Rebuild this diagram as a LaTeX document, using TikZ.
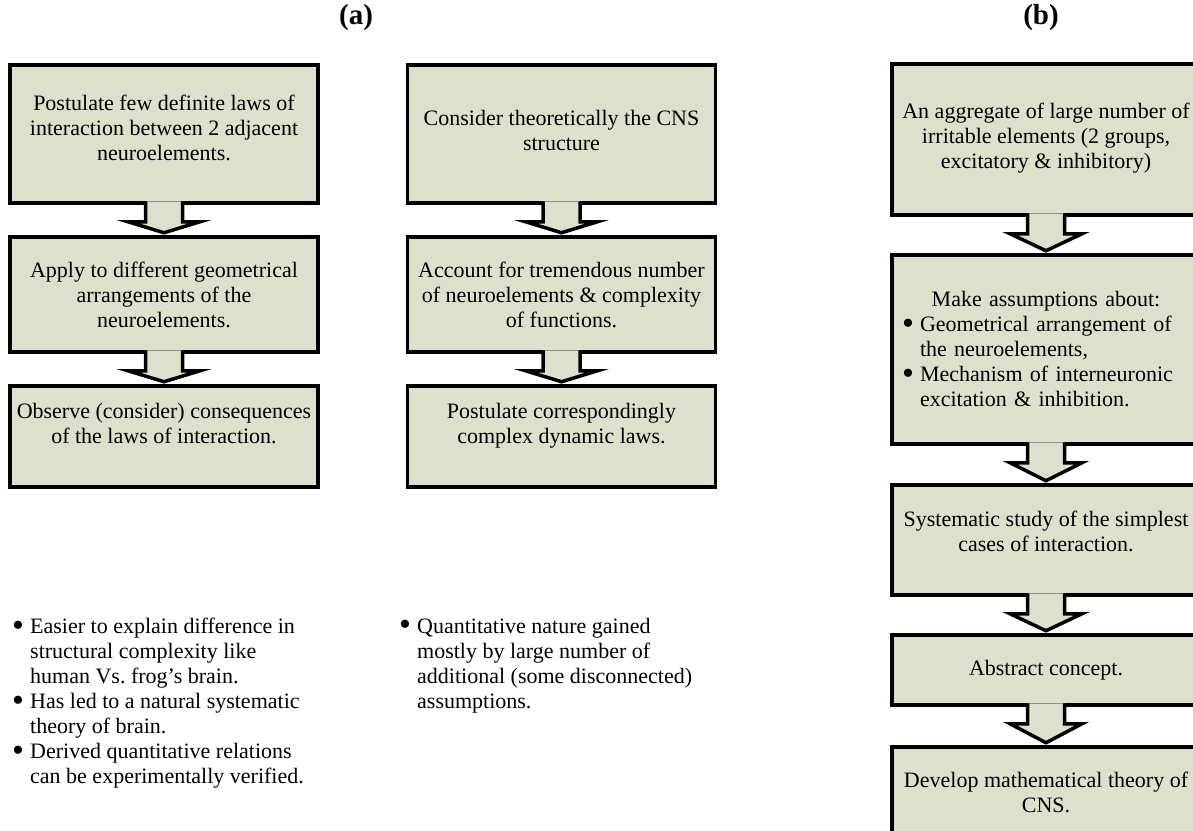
\documentclass[tikz,border=0pt]{standalone}
\usepackage{fontspec}
\setmainfont{Liberation Serif}
\usetikzlibrary{calc}
\definecolor{boxfill}{RGB}{221,224,204}
\newcommand\bodyfont{\fontsize{22}{25}\selectfont}
\newcommand\titlefont{\bfseries\fontsize{29}{32}\selectfont}
\newcommand\bigdot{{\fontsize{34}{0}\selectfont\raisebox{-2.5pt}{\textbullet}}}
\newcommand\bul{\makebox[18pt][l]{\bigdot}}
\newcommand\ind{\hspace*{18pt}}
% block arrow from the bottom of box #1 down to the top of box #2
\newcommand\flowarrow[2]{%
  \fill[arrowfill] ($(#1.south)+(-18.5,-3.5)$) -- ($(#1.south)+(-18.5,17)$)
    -- ($(#1.south)+(-36,17)$) -- ($(#2.north)+(0,-2.5)$)
    -- ($(#1.south)+(36,17)$) -- ($(#1.south)+(18.5,17)$)
    -- ($(#1.south)+(18.5,-3.5)$) -- cycle;
  \draw[arrowedge] ($(#1.south)+(-18.5,-3.5)$) -- ($(#1.south)+(-18.5,17)$)
    -- ($(#1.south)+(-36,17)$) -- ($(#2.north)+(0,-2.5)$)
    -- ($(#1.south)+(36,17)$) -- ($(#1.south)+(18.5,17)$)
    -- ($(#1.south)+(18.5,-3.5)$);
}
\begin{document}
\begin{tikzpicture}[x=1pt,y=-1pt,
  box/.style={draw=black, line width=3.5pt, fill=boxfill, minimum width=308pt,
    align=center, font=\bodyfont, inner sep=2pt},
  arrowfill/.style={fill=boxfill},
  arrowedge/.style={draw=black, line width=3.5pt, line join=miter},
  listtext/.style={font=\bodyfont, align=left, inner sep=0pt, anchor=north west},
  title/.style={font=\titlefont, inner sep=0pt}]
\useasboundingbox (0,0) rectangle (1193,830);
\clip (0,0) rectangle (1193,830);

% titles
\node[title] (ta) at (356,18) {(a)};
\node[title] (tb) at (1041,18) {(b)};

% left column
\node[box, minimum height=138, text depth=12pt] (l1) at (164,134)
  {Postulate few definite laws of\\interaction between 2 adjacent\\neuroelements.};
\node[box, minimum height=115] (l2) at (164,294.5)
  {Apply to different geometrical\\arrangements of the\\neuroelements.};
\node[box, minimum height=101, text depth=27pt] (l3) at (164,436.5)
  {Observe (consider) consequences\\of the laws of interaction.};

% middle column
\node[box, minimum height=138, text depth=8pt] (m1) at (561.5,134)
  {Consider theoretically the CNS\\structure};
\node[box, minimum height=115] (m2) at (561.5,294.5)
  {Account for tremendous number\\of neuroelements \& complexity\\of functions.};
\node[box, minimum height=101, text depth=27pt] (m3) at (561.5,436.5)
  {Postulate correspondingly\\complex dynamic laws.};

% right column
\node[box, minimum height=151, text depth=8pt] (r1) at (1046,139.5)
  {An aggregate of large number of\\irritable elements (2 groups,\\excitatory \& inhibitory)};
\node[box, minimum height=189, align=left, text width=288pt, inner xsep=10pt] (r2) at (1046,349.5)
  {\makebox[288pt]{Make assumptions about:}\\
   \bul Geometrical arrangement of\\
   \ind the neuroelements,\\
   \bul Mechanism of interneuronic\\
   \ind excitation \& inhibition.};
\node[box, minimum height=110, text depth=17pt] (r3) at (1046,540)
  {Systematic study of the simplest\\cases of interaction.};
\node[box, minimum height=70] (r4) at (1046,670)
  {Abstract concept.};
\node[box, minimum height=90] (r5) at (1046,792)
  {Develop mathematical theory of\\CNS.};

% connecting block arrows
\flowarrow{l1}{l2}
\flowarrow{l2}{l3}
\flowarrow{m1}{m2}
\flowarrow{m2}{m3}
\flowarrow{r1}{r2}
\flowarrow{r2}{r3}
\flowarrow{r3}{r4}
\flowarrow{r4}{r5}

% notes under the columns
\node[listtext] (na) at (12,618)
  {\bul Easier to explain difference in\\
   \ind structural complexity like\\
   \ind human Vs.\ frog’s brain.\\
   \bul Has led to a natural systematic\\
   \ind theory of brain.\\
   \bul Derived quantitative relations\\
   \ind can be experimentally verified.};
\node[listtext] (nb) at (399,618)
  {\bul Quantitative nature gained\\
   \ind mostly by large number of\\
   \ind additional (some disconnected)\\
   \ind assumptions.};
\end{tikzpicture}
\end{document}
